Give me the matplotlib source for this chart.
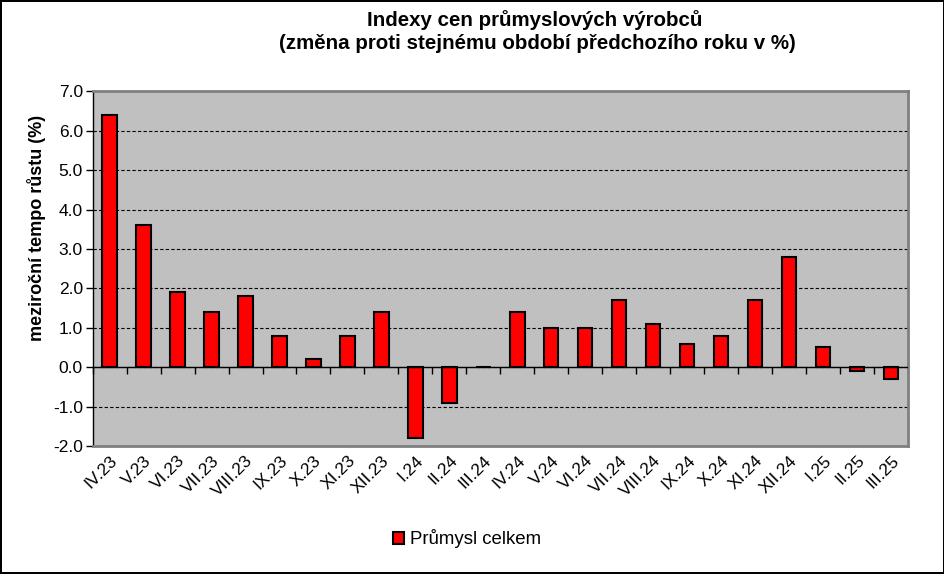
import numpy as np
import matplotlib.pyplot as plt
from matplotlib.patches import Rectangle

plt.rcParams['font.family'] = ['Liberation Sans', 'DejaVu Sans']

# data
months = ['IV.23', 'V.23', 'VI.23', 'VII.23', 'VIII.23', 'IX.23', 'X.23', 'XI.23',
          'XII.23', 'I.24', 'II.24', 'III.24', 'IV.24', 'V.24', 'VI.24', 'VII.24',
          'VIII.24', 'IX.24', 'X.24', 'XI.24', 'XII.24', 'I.25', 'II.25', 'III.25']
values = [6.4, 3.6, 1.9, 1.4, 1.8, 0.8, 0.2, 0.8,
          1.4, -1.8, -0.9, 0.0, 1.4, 1.0, 1.0, 1.7,
          1.1, 0.6, 0.8, 1.7, 2.8, 0.5, -0.1, -0.3]
series_name = 'Průmysl celkem'
ymin, ymax = -2.0, 7.0

fig = plt.figure(figsize=(9.45, 5.74), dpi=100)
fig.patch.set_edgecolor('black')
fig.patch.set_linewidth(1.5)
ax = fig.add_axes([0.098, 0.223, 0.863, 0.618])
ax.set_facecolor('#C0C0C0')

x = np.arange(len(months))
bars = ax.bar(x, values, width=0.42, color='#FF0000', edgecolor='black',
              linewidth=1.5, zorder=3, label=series_name)

ax.set_xlim(-0.5, len(months) - 0.5)
ax.set_ylim(ymin, ymax)
yt = np.arange(ymin, ymax + 0.1, 1.0)
ax.set_yticks(yt)
ax.set_yticklabels(['%.1f' % v for v in yt], fontsize=12.5)
ax.yaxis.grid(True, color='black', linestyle=(0, (3, 2)), linewidth=0.8)
ax.set_axisbelow(True)
ax.tick_params(axis='y', direction='out', length=5, width=1, pad=2)

ax.set_xticks(x)
ax.set_xticklabels(months, rotation=45, ha='right', rotation_mode='anchor', fontsize=12.5)
ax.tick_params(axis='x', length=0, pad=5)

for s in ['top', 'right', 'bottom']:
    ax.spines[s].set_color('#808080')
    ax.spines[s].set_linewidth(2)
ax.spines['left'].set_color('black')
ax.spines['left'].set_linewidth(1)

# zero line with category boundary ticks
ax.axhline(0, color='black', linewidth=1, zorder=4)
sec = ax.secondary_xaxis((0 - ymin) / (ymax - ymin))
sec.set_xticks(np.arange(len(months) + 1) - 0.5)
sec.set_xticklabels([])
sec.tick_params(direction='out', length=5, width=1, color='black')
sec.spines['bottom'].set_visible(False)

ax.set_ylabel('meziroční tempo růstu (%)', fontsize=13, fontweight='bold')
ax.yaxis.set_label_coords(-0.057, 0.614)

fig.text(0.566, 0.965, 'Indexy cen průmyslových výrobců', ha='center', va='center',
         fontsize=14.8, fontweight='bold')
fig.text(0.569, 0.925, '(změna proti stejnému období předchozího roku v %)',
         ha='center', va='center', fontsize=14.8, fontweight='bold')

leg = fig.legend(handles=[Rectangle((0, 0), 1, 1, facecolor='#FF0000', edgecolor='black',
                                    linewidth=1.5)],
                 labels=[series_name], loc='center', bbox_to_anchor=(0.494, 0.061),
                 frameon=False, fontsize=13.4, handlelength=0.6, handleheight=0.6,
                 handletextpad=0.3)

fig.savefig('out.png', dpi=100, edgecolor=fig.get_edgecolor())
